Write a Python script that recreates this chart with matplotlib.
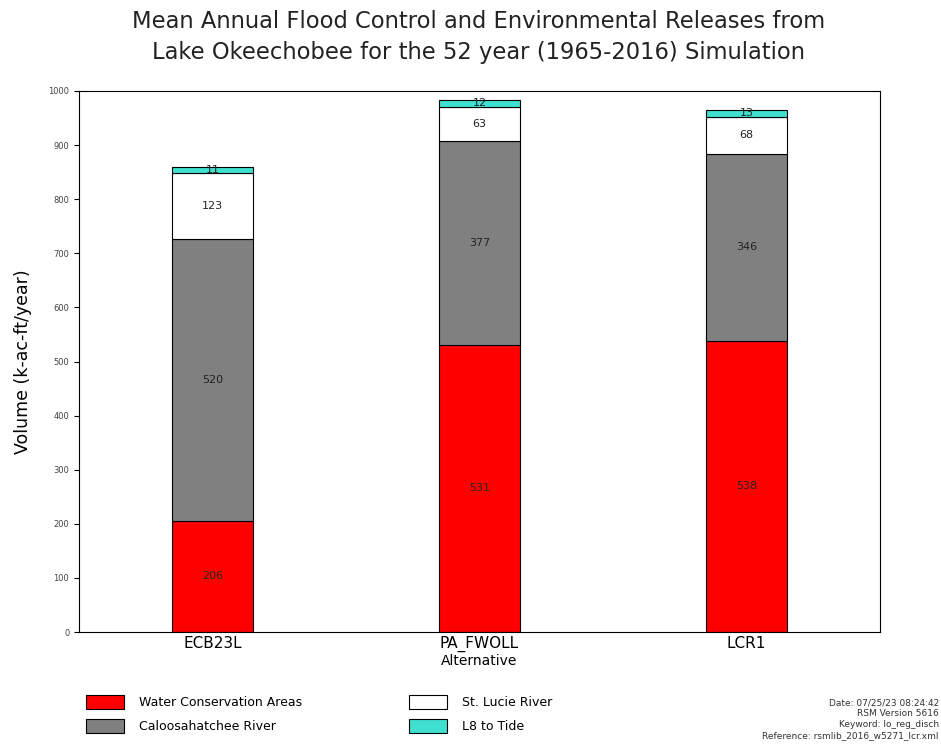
import matplotlib
matplotlib.use('Agg')
import matplotlib.pyplot as plt
import numpy as np

alternatives = ['ECB23L', 'PA_FWOLL', 'LCR1']
wca = [206, 531, 538]
caloosahatchee = [520, 377, 346]
st_lucie = [123, 63, 68]
l8_tide = [11, 12, 13]

series = [
    ('Water Conservation Areas', wca, '#ff0000'),
    ('Caloosahatchee River', caloosahatchee, '#808080'),
    ('St. Lucie River', st_lucie, '#ffffff'),
    ('L8 to Tide', l8_tide, '#40e0d0'),
]

fig = plt.figure(figsize=(9.41, 7.44), dpi=100)
ax = fig.add_axes([79 / 941, 1 - 632 / 744, 801 / 941, 541 / 744])

x = np.arange(len(alternatives))
bottom = np.zeros(len(alternatives))
handles = []
for name, vals, col in series:
    vals = np.array(vals, dtype=float)
    b = ax.bar(x, vals, 0.3, bottom=bottom, color=col, edgecolor='black',
               linewidth=0.8, label=name)
    handles.append(b)
    for xi, v, bt in zip(x, vals, bottom):
        ax.text(xi, bt + v / 2, '%d' % v, ha='center', va='center',
                fontsize=8, color='#222222')
    bottom += vals

ax.set_xlim(-0.5, 2.5)
ax.set_ylim(0, 1000)
ax.set_yticks(range(0, 1001, 100))
ax.tick_params(axis='y', labelsize=6, labelcolor='#444444')
ax.set_xticks(x)
ax.set_xticklabels(alternatives, fontsize=11)
ax.tick_params(axis='x', length=0, pad=3)
ax.set_xlabel('Alternative', fontsize=10, labelpad=1)
ax.set_ylabel('Volume (k-ac-ft/year)', fontsize=12.5, labelpad=12)

fig.text(479 / 941, 1 - 22 / 744, 'Mean Annual Flood Control and Environmental Releases from',
         ha='center', va='center', fontsize=16.3, color='#222222')
fig.text(479 / 941, 1 - 52 / 744, 'Lake Okeechobee for the 52 year (1965-2016) Simulation',
         ha='center', va='center', fontsize=16.3, color='#222222')

fig.legend(handles=handles, labels=[s[0] for s in series], ncol=2,
           frameon=False, loc='upper left',
           bbox_to_anchor=(75 / 941, 1 - 684 / 744),
           fontsize=9, handlelength=3.0, handleheight=1.3, handletextpad=1.2,
           columnspacing=8.6, labelspacing=0.8)

fig.text(939 / 941, 1 - 740 / 744,
         'Date: 07/25/23 08:24:42\nRSM Version 5616\nKeyword: lo_reg_disch\nReference: rsmlib_2016_w5271_lcr.xml',
         ha='right', va='bottom', fontsize=6.5, linespacing=1.25, color='#333333')

fig.savefig('out.png', dpi=100)
